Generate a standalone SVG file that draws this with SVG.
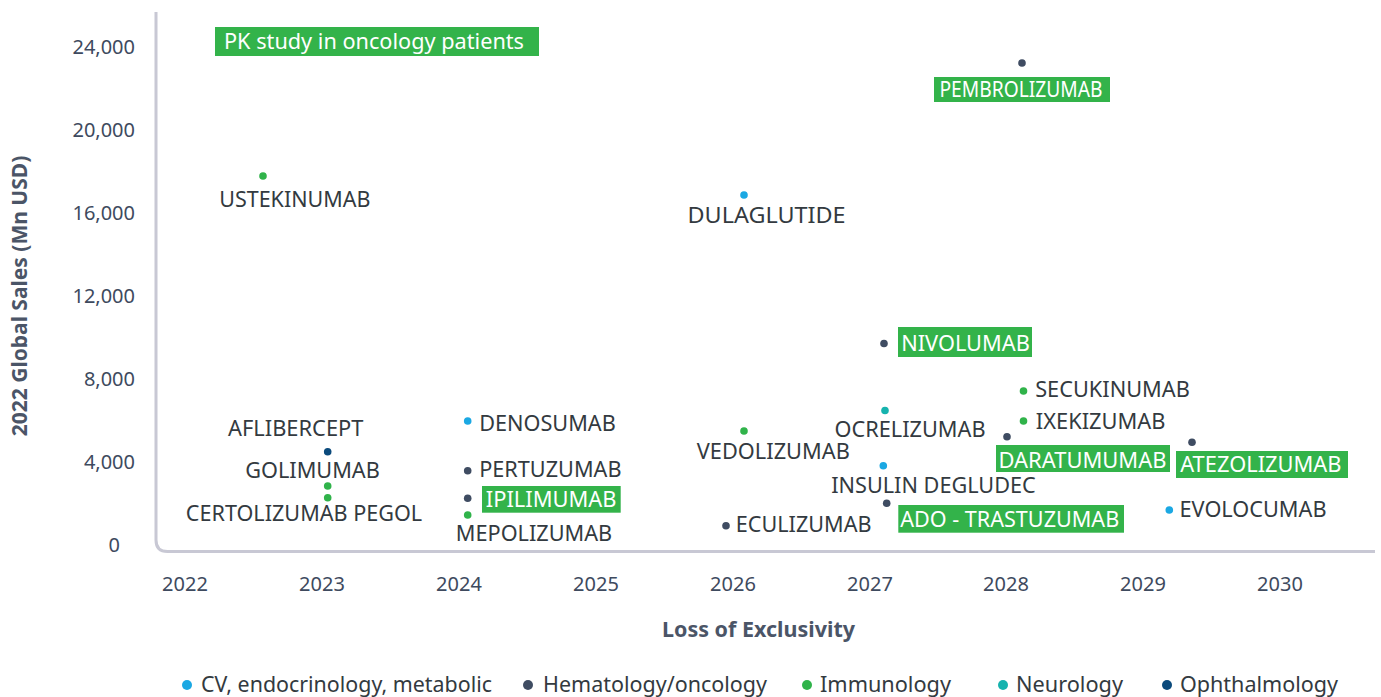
<svg xmlns="http://www.w3.org/2000/svg" width="1381" height="697" viewBox="0 0 1381 697">
<style>
text{font-family:"Noto Sans","Open Sans","DejaVu Sans",sans-serif}
.tick{font-size:20px;fill:#3e4a5e}
.lbl{font-size:21px;fill:#333a40}
.blbl{font-size:21px;fill:#ffffff}
.box{fill:#33b34a}
.title{font-size:21px;font-weight:bold;fill:#4b5567}
.leg{font-size:21px;fill:#333a40}
.cv{fill:#1ba8e3}.he{fill:#3f4c62}.im{fill:#30b34a}.ne{fill:#16b3ae}.op{fill:#0b4a7c}
</style>
<rect width="1381" height="697" fill="#ffffff"/>
<g id="axes">
<path d="M156,12 V540 Q156,551.5 167.5,551.5 H1375" fill="none" stroke="#c8c8d4" stroke-width="3"/>
<g class="tick" text-anchor="end">
<text x="135" y="54">24,000</text>
<text x="135" y="137">20,000</text>
<text x="135" y="220">16,000</text>
<text x="135" y="303">12,000</text>
<text x="135" y="386">8,000</text>
<text x="135" y="469">4,000</text>
<text x="120" y="552">0</text>
</g>
<g class="tick" text-anchor="middle">
<text x="185" y="591">2022</text>
<text x="322" y="591">2023</text>
<text x="459" y="591">2024</text>
<text x="596" y="591">2025</text>
<text x="733" y="591">2026</text>
<text x="870" y="591">2027</text>
<text x="1006" y="591">2028</text>
<text x="1143" y="591">2029</text>
<text x="1280" y="591">2030</text>
</g>
<text class="title" x="662" y="637" textLength="193" lengthAdjust="spacingAndGlyphs">Loss of Exclusivity</text>
<text class="title" transform="translate(27,296) rotate(-90)" text-anchor="middle">2022 Global Sales (Mn USD)</text>
</g>
<g id="note-pk">
<rect class="box" x="215" y="27" width="324" height="29"/>
<text class="blbl" x="224" y="48.5" textLength="300" lengthAdjust="spacingAndGlyphs">PK study in oncology patients</text>
</g>
<g id="ustekinumab"><circle class="im" cx="263" cy="176" r="3.8"/><text class="lbl" x="219.2" y="207" textLength="151.3" lengthAdjust="spacingAndGlyphs">USTEKINUMAB</text></g>
<g id="dulaglutide"><circle class="cv" cx="744" cy="195" r="3.8"/><text class="lbl" x="687.5" y="222.7" textLength="158" lengthAdjust="spacingAndGlyphs">DULAGLUTIDE</text></g>
<g id="pembrolizumab"><circle class="he" cx="1022" cy="63" r="3.8"/><rect class="box" x="934" y="77" width="176" height="25"/><text class="blbl" x="939.5" y="96.8" textLength="163" lengthAdjust="spacingAndGlyphs">PEMBROLIZUMAB</text></g>
<g id="nivolumab"><circle class="he" cx="884" cy="343.5" r="3.8"/><rect class="box" x="898" y="327" width="134" height="30"/><text class="blbl" x="901.2" y="350.7" textLength="128.6" lengthAdjust="spacingAndGlyphs">NIVOLUMAB</text></g>
<g id="secukinumab"><circle class="im" cx="1023.5" cy="391" r="3.8"/><text class="lbl" x="1035.2" y="396.7" textLength="154.6" lengthAdjust="spacingAndGlyphs">SECUKINUMAB</text></g>
<g id="ixekizumab"><circle class="im" cx="1023.5" cy="421" r="3.8"/><text class="lbl" x="1035.8" y="429" textLength="129.7" lengthAdjust="spacingAndGlyphs">IXEKIZUMAB</text></g>
<g id="ocrelizumab"><circle class="ne" cx="885" cy="410.5" r="3.8"/><text class="lbl" x="834.5" y="436.7" textLength="151" lengthAdjust="spacingAndGlyphs">OCRELIZUMAB</text></g>
<g id="vedolizumab"><circle class="im" cx="744" cy="431" r="3.8"/><text class="lbl" x="696.8" y="459.3" textLength="153" lengthAdjust="spacingAndGlyphs">VEDOLIZUMAB</text></g>
<g id="daratumumab"><circle class="he" cx="1007" cy="436.7" r="3.8"/><rect class="box" x="996" y="445" width="174" height="27"/><text class="blbl" x="998.5" y="467.7" textLength="168" lengthAdjust="spacingAndGlyphs">DARATUMUMAB</text></g>
<g id="atezolizumab"><circle class="he" cx="1192" cy="442.3" r="3.8"/><rect class="box" x="1176" y="451" width="172" height="27"/><text class="blbl" x="1180.2" y="471.7" textLength="161.3" lengthAdjust="spacingAndGlyphs">ATEZOLIZUMAB</text></g>
<g id="insulin-degludec"><circle class="cv" cx="883.3" cy="465.7" r="3.8"/><text class="lbl" x="831.2" y="492.7" textLength="204.6" lengthAdjust="spacingAndGlyphs">INSULIN DEGLUDEC</text></g>
<g id="ado-trastuzumab"><circle class="he" cx="886.7" cy="503.3" r="3.8"/><rect class="box" x="898.3" y="505" width="225.7" height="27.7"/><text class="blbl" x="900.2" y="526.7" textLength="219" lengthAdjust="spacingAndGlyphs">ADO - TRASTUZUMAB</text></g>
<g id="eculizumab"><circle class="he" cx="726" cy="525.7" r="3.8"/><text class="lbl" x="735.8" y="531.7" textLength="135.7" lengthAdjust="spacingAndGlyphs">ECULIZUMAB</text></g>
<g id="evolocumab"><circle class="cv" cx="1169.3" cy="510" r="3.8"/><text class="lbl" x="1179.5" y="516.7" textLength="147" lengthAdjust="spacingAndGlyphs">EVOLOCUMAB</text></g>
<g id="aflibercept"><circle class="op" cx="327.7" cy="451.7" r="3.8"/><text class="lbl" x="228" y="436" textLength="135.4" lengthAdjust="spacingAndGlyphs">AFLIBERCEPT</text></g>
<g id="golimumab"><circle class="im" cx="327.7" cy="486" r="3.8"/><text class="lbl" x="245.2" y="477.7" textLength="134.6" lengthAdjust="spacingAndGlyphs">GOLIMUMAB</text></g>
<g id="certolizumab-pegol"><circle class="im" cx="327.7" cy="497.7" r="3.8"/><text class="lbl" x="185.8" y="520.7" textLength="236.4" lengthAdjust="spacingAndGlyphs">CERTOLIZUMAB PEGOL</text></g>
<g id="denosumab"><circle class="cv" cx="467.7" cy="421" r="3.8"/><text class="lbl" x="479.2" y="431" textLength="136.6" lengthAdjust="spacingAndGlyphs">DENOSUMAB</text></g>
<g id="pertuzumab"><circle class="he" cx="467.7" cy="470.7" r="3.8"/><text class="lbl" x="479.2" y="477.3" textLength="142.3" lengthAdjust="spacingAndGlyphs">PERTUZUMAB</text></g>
<g id="ipilimumab"><circle class="he" cx="467.7" cy="498.3" r="3.8"/><rect class="box" x="482" y="486" width="138.7" height="26.7"/><text class="blbl" x="485.8" y="506.7" textLength="130.7" lengthAdjust="spacingAndGlyphs">IPILIMUMAB</text></g>
<g id="mepolizumab"><circle class="im" cx="467.7" cy="515" r="3.8"/><text class="lbl" x="455.8" y="540.7" textLength="156.4" lengthAdjust="spacingAndGlyphs">MEPOLIZUMAB</text></g>
<g id="legend">
<circle class="cv" cx="187" cy="685" r="5"/><text class="leg" x="201" y="692" textLength="291" lengthAdjust="spacingAndGlyphs">CV, endocrinology, metabolic</text>
<circle class="he" cx="528" cy="685" r="5"/><text class="leg" x="543" y="692" textLength="224" lengthAdjust="spacingAndGlyphs">Hematology/oncology</text>
<circle class="im" cx="807" cy="685" r="5"/><text class="leg" x="820" y="692" textLength="131" lengthAdjust="spacingAndGlyphs">Immunology</text>
<circle class="ne" cx="1003" cy="685" r="5"/><text class="leg" x="1016" y="692" textLength="107" lengthAdjust="spacingAndGlyphs">Neurology</text>
<circle class="op" cx="1167" cy="685" r="5"/><text class="leg" x="1180" y="692" textLength="158" lengthAdjust="spacingAndGlyphs">Ophthalmology</text>
</g>
</svg>
